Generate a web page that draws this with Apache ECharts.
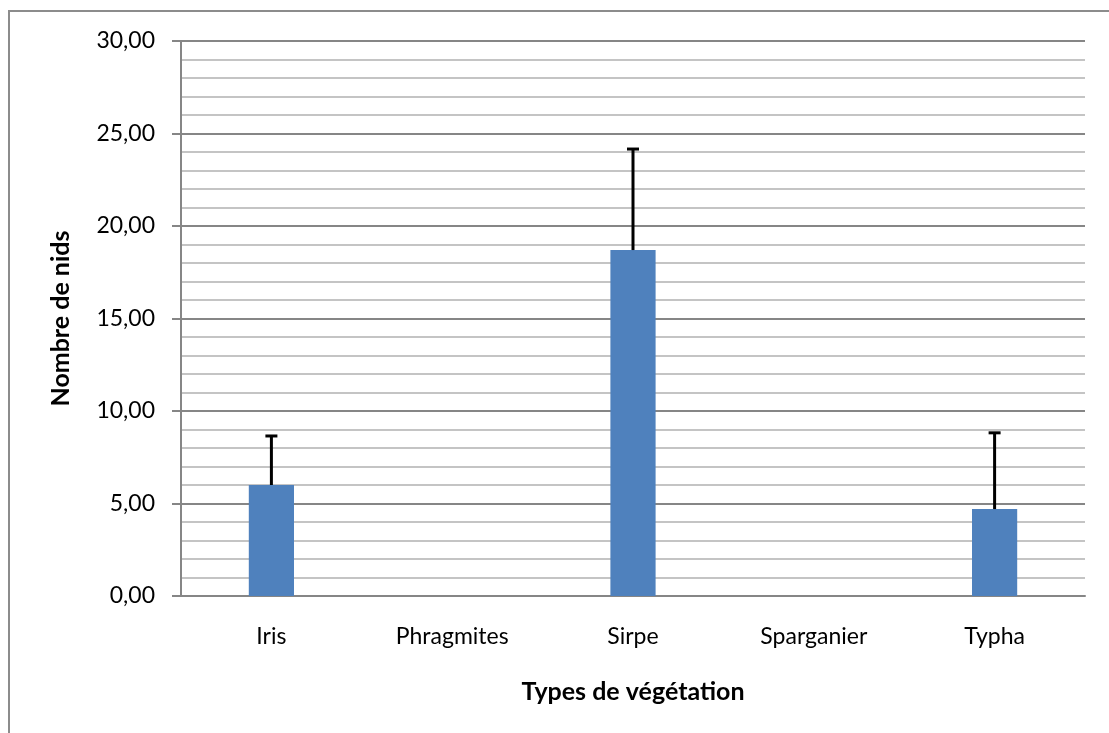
<!DOCTYPE html>
<html>
<head>
<meta charset="utf-8">
<script src="https://cdn.jsdelivr.net/npm/echarts@6/dist/echarts.min.js"></script>
<style>
  html, body { margin: 0; padding: 0; background: #fff; }
  #chart { width: 1109px; height: 733px; }
</style>
</head>
<body>
<div id="chart"></div>
<script>
	// données
	var categories = ['Iris', 'Phragmites', 'Sirpe', 'Sparganier', 'Typha'];
	var moyennes = [6.0, 0, 18.7, 0, 4.7];
	var erreurs = [2.65, null, 5.46, null, 4.12];	// écart vers le haut

	var police = 'Lato';

	// barres d'erreur (haut seulement)
	var errData = [];
	for (var i = 0; i < categories.length; i++) {
		if (erreurs[i] != null) {
			errData.push([i, moyennes[i], moyennes[i] + erreurs[i]]);
		}
	}

	var chart = echarts.init(document.getElementById('chart'));
	var option = {
		animation: false,
		backgroundColor: '#fff',
		graphic: [{
			type: 'rect',
			shape: { x: 9, y: 11, width: 1120, height: 740 },
			style: { fill: 'none', stroke: '#8c8c8c', lineWidth: 2 },
			silent: true
		}],
		grid: { left: 181, right: 24, top: 41, bottom: 137 },
		xAxis: {
			type: 'category',
			data: categories,
			name: 'Types de végétation',
			nameLocation: 'middle',
			nameGap: 83,
			nameTextStyle: { fontFamily: police, fontSize: 25, fontWeight: 'bold', color: '#000' },
			axisLine: { lineStyle: { color: '#868686', width: 2 } },
			axisTick: { show: false },
			axisLabel: { fontFamily: police, fontSize: 23, color: '#000', margin: 29 }
		},
		yAxis: {
			type: 'value',
			min: 0,
			max: 30,
			interval: 5,
			name: 'Nombre de nids',
			nameLocation: 'middle',
			nameGap: 108,
			nameTextStyle: { fontFamily: police, fontSize: 25, fontWeight: 'bold', color: '#000' },
			axisLine: { show: true, lineStyle: { color: '#868686', width: 2 } },
			axisTick: { show: true, inside: false, length: 9, lineStyle: { color: '#868686', width: 2 } },
			axisLabel: {
				fontFamily: police, fontSize: 23, color: '#000', margin: 26,
				formatter: function (v) { return v.toFixed(2).replace('.', ','); }
			},
			splitLine: { show: true, lineStyle: { color: '#868686', width: 2 } },
			minorTick: { show: false, splitNumber: 5 },
			minorSplitLine: { show: true, lineStyle: { color: '#c4c4c4', width: 2 } }
		},
		series: [{
			name: 'Nombre de nids',
			type: 'bar',
			data: moyennes,
			barWidth: '25%',
			itemStyle: { color: '#4f81bd' },
			z: 2
		}, {
			type: 'custom',
			data: errData,
			z: 3,
			renderItem: function (params, api) {
				var x = api.value(0);
				var bas = api.coord([x, api.value(1)]);
				var haut = api.coord([x, api.value(2)]);
				var cap = 6;
				var st = { stroke: '#000', lineWidth: 3 };
				return {
					type: 'group',
					children: [{
						type: 'line',
						shape: { x1: bas[0], y1: bas[1], x2: haut[0], y2: haut[1] },
						style: st
					}, {
						type: 'line',
						shape: { x1: haut[0] - cap, y1: haut[1], x2: haut[0] + cap, y2: haut[1] },
						style: st
					}]
				};
			}
		}]
	};
	chart.setOption(option);
</script>
</body>
</html>
